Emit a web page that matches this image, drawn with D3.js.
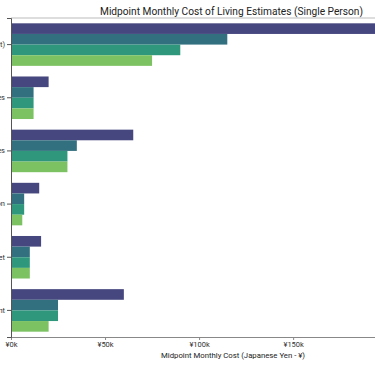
<!DOCTYPE html>
<html><head><meta charset="utf-8">
<script src="https://cdn.jsdelivr.net/npm/d3@7"></script>
<style>html,body{margin:0;padding:0;background:#fff;overflow:hidden}svg{display:block;font-family:Roboto,"Open Sans",sans-serif}</style>
</head><body>
<svg id="c" width="375" height="366"></svg>
<script>
const categories = ["Rent (1BR Apartment)", "Utilities", "Groceries", "Transportation", "Internet", "Entertainment"];
const seriesNames = ["Tokyo", "Osaka", "Fukuoka", "Sapporo"];
const tokyo   = [225, 20, 65, 15, 16, 60];
const osaka   = [115, 12, 35, 7, 10, 25];
const fukuoka = [90, 12, 30, 7, 10, 25];
const sapporo = [75, 12, 30, 6, 10, 20];
const seriesValues = [tokyo, osaka, fukuoka, sapporo];
const colors = ["#47477f", "#33707f", "#2e977c", "#7cc263"];
const xTicks = [0, 50, 100, 150];
const title = "Midpoint Monthly Cost of Living Estimates (Single Person)";
const xLabel = "Midpoint Monthly Cost (Japanese Yen - ¥)";

const svg = d3.select("#c");
const L = 11, R = 453, T = 18, B = 337;
const x = d3.scaleLinear().domain([0, 235]).range([L, R]);
const y = d3.scaleBand().domain(categories).range([T, B]).paddingInner(0.2).paddingOuter(0.1);
const sub = d3.scaleBand().domain(seriesNames).range([0, y.bandwidth()]);

svg.append("text").attr("x", 100).attr("y", 15)
  .attr("font-size", 10.6).attr("fill", "#222")
  .attr("textLength", 263).attr("lengthAdjust", "spacingAndGlyphs").text(title);

seriesNames.forEach((s, si) => {
  svg.append("g").selectAll("rect").data(categories).join("rect")
    .attr("x", x(0)).attr("y", c => y(c) + sub(s))
    .attr("width", (c, i) => x(seriesValues[si][i]) - x(0))
    .attr("height", sub.bandwidth()).attr("fill", colors[si]);
});

// frame
svg.append("line").attr("x1", L).attr("x2", R).attr("y1", T).attr("y2", T).attr("stroke", "#bbb").attr("stroke-width", 1);
const xa = svg.append("g").attr("transform", `translate(0,${B})`)
  .call(d3.axisBottom(x).tickValues(xTicks).tickFormat(d => "¥" + d + "k").tickSize(3).tickPadding(2));
xa.select(".domain").attr("stroke", "#888");
xa.selectAll(".tick line").attr("stroke", "#888");
xa.selectAll("text").attr("font-size", 7.5).attr("fill", "#333").attr("font-family", "Roboto, sans-serif");

const ya = svg.append("g").attr("transform", `translate(${L},0)`)
  .call(d3.axisLeft(y).tickSize(4).tickPadding(2));
ya.select(".domain").attr("stroke", "#555");
ya.selectAll(".tick line").attr("stroke", "#555");
ya.selectAll("text").attr("font-size", 7.5).attr("fill", "#333").attr("font-family", "Roboto, sans-serif");

svg.append("text").attr("x", 161).attr("y", 358)
  .attr("font-size", 8).attr("fill", "#222")
  .attr("textLength", 144).attr("lengthAdjust", "spacingAndGlyphs").text(xLabel);
</script>
</body></html>
